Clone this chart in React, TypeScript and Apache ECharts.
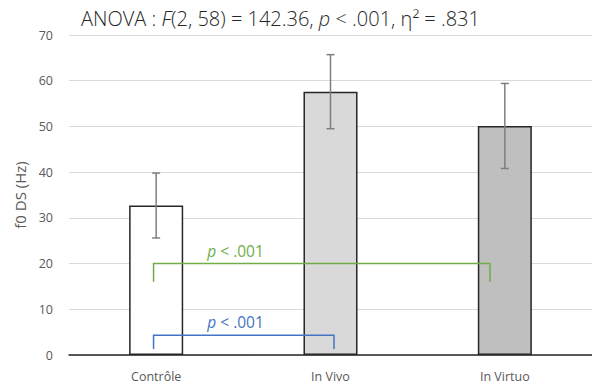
import React, { useEffect, useRef } from "react";
import * as echarts from "echarts";

const categories = ["Contrôle", "In Vivo", "In Virtuo"];
const means = [32.7, 57.6, 50.1];
const errors = [7.1, 8.1, 9.3];
const barColors = ["#ffffff", "#d9d9d9", "#bfbfbf"];
const yTicks = { min: 0, max: 70, interval: 10 };
// bracket: [startCategory, endCategory, topValue, bottomValue]
const bracketGreen = [0, 2, 20, 16];
const bracketBlue = [0, 1, 4.3, 1.3];
const bracketLabel = "< .001";

export default function App() {
  const ref = useRef<HTMLDivElement>(null);
  useEffect(() => {
    const chart = echarts.init(ref.current!, null, { renderer: "svg" });
    const font = "'Open Sans', 'Noto Sans', sans-serif";

    const bracketSeries = (b: number[], color: string, leftOff: number, rightOff: number) => ({
      type: "custom",
      silent: true,
      z: 5,
      data: [b],
      encode: { x: 0, y: 2 },
      renderItem: (params: any, api: any) => {
        const w = api.size([1, 0])[0];
        const p0 = api.coord([api.value(0), api.value(2)]);
        const p1 = api.coord([api.value(1), api.value(2)]);
        const bottom = api.coord([api.value(0), api.value(3)])[1];
        const x0 = p0[0] + leftOff * w;
        const x1 = p1[0] + rightOff * w;
        const y = p0[1];
        return {
          type: "group",
          children: [
            {
              type: "polyline",
              shape: { points: [[x0, bottom], [x0, y], [x1, y], [x1, bottom]] },
              style: { stroke: color, lineWidth: 1.5, fill: null },
            },
            {
              type: "text",
              x: x0 + 82,
              y: y - 5,
              style: {
                text: "{i|p} " + bracketLabel,
                rich: {
                  i: { fontStyle: "italic", fontSize: 15.5, fill: color, fontFamily: font },
                },
                fontSize: 15.5,
                fontFamily: font,
                fill: color,
                align: "center",
                verticalAlign: "bottom",
              },
            },
          ],
        };
      },
    });

    chart.setOption({
      animation: false,
      title: {
        text: "ANOVA : {i|F}(2, 58) = 142.36, {i|p} < .001, η² = .831",
        left: 76,
        top: 3,
        textStyle: {
          fontFamily: font,
          fontSize: 20,
          fontWeight: 300,
          color: "#262626",
          rich: {
            i: { fontStyle: "italic", fontWeight: 300, fontSize: 20, color: "#262626", fontFamily: font },
          },
        },
      },
      grid: { left: 69, top: 35, bottom: 29, width: 526 },
      xAxis: {
        type: "category",
        data: categories,
        axisLine: { lineStyle: { color: "#262626", width: 1.5 } },
        axisTick: { show: false },
        axisLabel: { color: "#595959", fontSize: 12.5, fontFamily: font, margin: 15 },
      },
      yAxis: {
        type: "value",
        min: yTicks.min,
        max: yTicks.max,
        interval: yTicks.interval,
        name: "f0 DS (Hz)",
        nameLocation: "middle",
        nameGap: 42,
        nameTextStyle: { color: "#595959", fontSize: 15, fontFamily: font },
        axisLine: { show: false },
        axisTick: { show: false },
        axisLabel: { color: "#595959", fontSize: 12.5, fontFamily: font, margin: 16 },
        splitLine: { lineStyle: { color: "#d9d9d9", width: 1 } },
      },
      series: [
        {
          type: "bar",
          barWidth: "31%",
          z: 2,
          data: means.map((v, i) => ({
            value: v,
            itemStyle: { color: barColors[i], borderColor: "#262626", borderWidth: 1.5 },
          })),
        },
        {
          type: "custom",
          z: 4,
          silent: true,
          data: means.map((m, i) => [i, m - errors[i], m + errors[i]]),
          encode: { x: 0, y: [1, 2] },
          renderItem: (params: any, api: any) => {
            const lo = api.coord([api.value(0), api.value(1)]);
            const hi = api.coord([api.value(0), api.value(2)]);
            const cap = 4;
            const st = { stroke: "#7f7f7f", lineWidth: 1.5 };
            return {
              type: "group",
              children: [
                { type: "line", shape: { x1: lo[0], y1: lo[1], x2: hi[0], y2: hi[1] }, style: st },
                { type: "line", shape: { x1: lo[0] - cap, y1: lo[1], x2: lo[0] + cap, y2: lo[1] }, style: st },
                { type: "line", shape: { x1: hi[0] - cap, y1: hi[1], x2: hi[0] + cap, y2: hi[1] }, style: st },
              ],
            };
          },
        },
        bracketSeries(bracketGreen, "#70ad47", -0.015, -0.085),
        bracketSeries(bracketBlue, "#4472c4", -0.015, 0.02),
      ],
    });
    return () => chart.dispose();
  }, []);
  return (
    <div
      ref={ref}
      style={{ position: "fixed", left: 0, top: 0, width: 592, height: 384, background: "#fff" }}
    />
  );
}
